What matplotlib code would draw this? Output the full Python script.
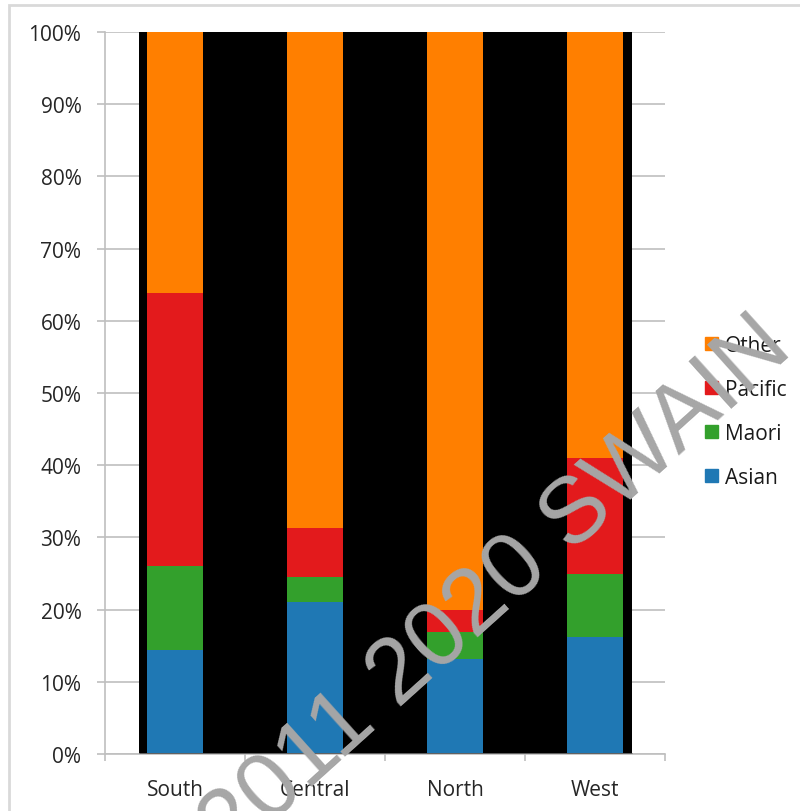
import matplotlib
matplotlib.use("Agg")
import matplotlib.pyplot as plt
from matplotlib.patches import Patch, Rectangle

# share of each group per region, in percent
regions = ["South", "Central", "North", "West"]
groups = ["Asian", "Maori", "Pacific", "Other"]
asian = [14.4, 21.0, 13.1, 16.2]
maori = [11.6, 3.5, 3.8, 8.7]
pacific = [37.9, 6.8, 3.0, 16.1]
other = [36.1, 68.7, 80.1, 59.0]
colors = ["#1f78b4", "#33a02c", "#e31a1c", "#ff7f00"]
yticks = [0, 10, 20, 30, 40, 50, 60, 70, 80, 90, 100]

plt.rcParams['font.family'] = ['Open Sans', 'DejaVu Sans']
txt = "#262626"
fs = 15

fig = plt.figure(figsize=(8, 8.12), dpi=100)
ax = fig.add_axes([105/800, 1-755/812, 560/800, 722/812])

x = list(range(len(regions)))
ax.axvspan(-0.257, 3.264, color="black", zorder=1.5, lw=0)

bottom = [0]*len(regions)
for vals, col, name in zip([asian, maori, pacific, other], colors, groups):
    ax.bar(x, vals, width=0.4, bottom=bottom, color=col, zorder=2, label=name)
    bottom = [b + v for b, v in zip(bottom, vals)]

ax.hlines(0, -0.257, 3.264, color="#595959", lw=2, zorder=3)

ax.set_xlim(-0.5, 3.5)
ax.set_ylim(0, 100)
ax.set_yticks(yticks)
ax.set_yticklabels([f"{t}%" for t in yticks])
ax.set_xticks(x)
ax.set_xticklabels(regions)
ax.set_xticks([-0.5, 0.5, 1.5, 2.5, 3.5], minor=True)
ax.tick_params(axis="x", which="major", length=0, pad=18, labelsize=fs, colors=txt)
ax.tick_params(axis="x", which="minor", length=5, color="#bfbfbf", width=1.2)
ax.tick_params(axis="y", length=6, pad=11, labelsize=fs, colors=txt, color="#bfbfbf", width=1.2)
ax.grid(axis="y", color="#bfbfbf", lw=1.2)
ax.set_axisbelow(True)
for s in ["top", "right"]:
    ax.spines[s].set_visible(False)
for s in ["left", "bottom"]:
    ax.spines[s].set_color("#bfbfbf")
    ax.spines[s].set_linewidth(1.2)

handles = [Patch(color=c, label=g) for c, g in zip(colors, groups)][::-1]
fig.legend(handles=handles, loc="upper left", bbox_to_anchor=(705/800, 1-336/812),
           frameon=False, fontsize=fs, handlelength=0.6, handleheight=0.6,
           handletextpad=0.35, labelspacing=1.1, labelcolor="#1a1a1a",
           borderaxespad=0, borderpad=0)

# outer border of the chart area
fig.add_artist(Rectangle((9/800, -0.2), 1.2, (812-6)/812 + 0.2, fill=False,
                         ec="#d9d9d9", lw=2, transform=fig.transFigure))

# watermark
fig.text(795/800, 1-352/812, "2011 2020 SWAIN", rotation=42, rotation_mode="anchor",
         ha="right", va="baseline", fontsize=67, color="#a6a6a6",
         family="Liberation Sans", zorder=10)

fig.savefig("out.png", dpi=100)
